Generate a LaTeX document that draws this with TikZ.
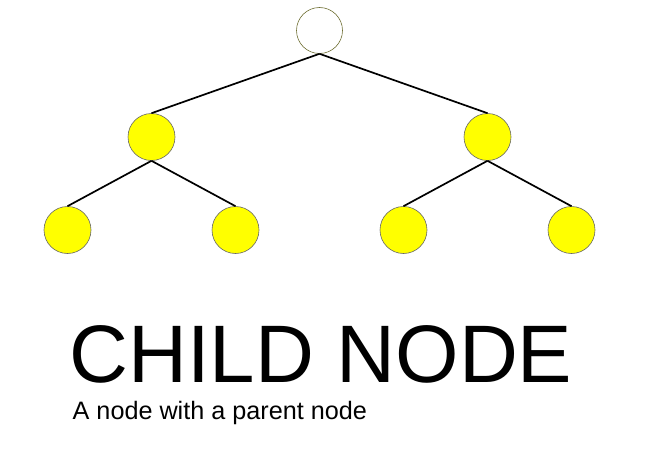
\documentclass[tikz,border=0pt]{standalone}
\usepackage{fontspec}
\setmainfont{Liberation Sans}
\definecolor{rootline}{RGB}{110,110,50}
\definecolor{nodeyellow}{RGB}{255,255,0}
\begin{document}
\begin{tikzpicture}[x=1pt,y=-1pt,
  treenode/.style={circle,minimum size=47pt,inner sep=0pt,fill=nodeyellow,draw=black!60,line width=0.6pt},
  rootnode/.style={circle,minimum size=46pt,inner sep=0pt,fill=white,draw=rootline,line width=0.6pt},
  edge/.style={line width=1.7pt,black},
  bigtext/.style={anchor=base west,inner sep=0pt,font=\fontsize{81.6}{81.6}\selectfont},
  smalltext/.style={anchor=base west,inner sep=0pt,font=\fontsize{25.2}{25.2}\selectfont}]
\useasboundingbox (0,0) rectangle (650,460);
\node[rootnode] (r) at (319.5,30.5) {};
\node[treenode] (a) at (151.5,137) {};
\node[treenode] (b) at (487.5,137) {};
\node[treenode] (aa) at (67.5,230) {};
\node[treenode] (ab) at (235.5,230) {};
\node[treenode] (ba) at (403.5,230) {};
\node[treenode] (bb) at (571.5,230) {};
\draw[edge] (r.south) -- (a.north);
\draw[edge] (r.south) -- (b.north);
\draw[edge] (a.south) -- (aa.north);
\draw[edge] (a.south) -- (ab.north);
\draw[edge] (b.south) -- (ba.north);
\draw[edge] (b.south) -- (bb.north);
\node[bigtext] (t1) at (69,382) {CHILD NODE};
\node[smalltext] (t2) at (72.5,419) {A node with a parent node};
\end{tikzpicture}
\end{document}
